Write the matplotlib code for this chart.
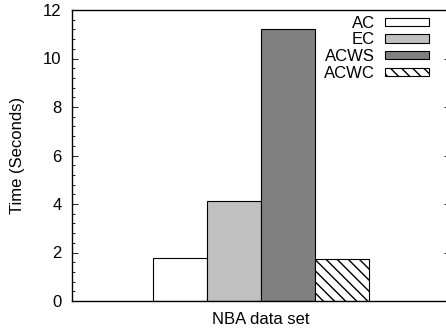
import numpy as np
import matplotlib
matplotlib.use('Agg')
import matplotlib.pyplot as plt
from matplotlib.ticker import MultipleLocator

plt.rcParams['font.family'] = ['Liberation Sans', 'DejaVu Sans']

methods = ['AC', 'EC', 'ACWS', 'ACWC']
times = [1.78, 4.13, 11.23, 1.73]
dataset = 'NBA data set'

colors = ['white', '#c0c0c0', '#808080', 'white']
hatches = [None, None, None, '\\\\\\']

fig = plt.figure(figsize=(4.46, 3.32), dpi=100)
ax = fig.add_axes([72 / 446, 31 / 332, 378 / 446, 291 / 332])

pos = np.arange(len(methods)) - 1.5
for p, t, m, c, h in zip(pos, times, methods, colors, hatches):
    ax.bar(p, t, width=1.0, color=c, edgecolor='black', linewidth=0.8,
           hatch=h, label=m)

ax.set_xlim(-3.5, 3.5)
ax.set_ylim(0, 12)
ax.yaxis.set_major_locator(MultipleLocator(2))
ax.yaxis.set_minor_locator(MultipleLocator(0.4))
ax.tick_params(axis='y', which='both', direction='in', left=True, right=True,
               labelsize=12, pad=7.5)
ax.tick_params(axis='y', which='major', length=4, width=0.6)
ax.tick_params(axis='y', which='minor', length=2, width=0.6)
ax.set_xticks([0])
ax.set_xticklabels([dataset], fontsize=12)
ax.tick_params(axis='x', length=0, pad=8)
ax.set_ylabel('Time (Seconds)', fontsize=12, labelpad=13)

for s in ax.spines.values():
    s.set_linewidth(1.0)

ax.legend(loc='upper right', bbox_to_anchor=(0.944, 0.98), frameon=False,
          markerfirst=False, fontsize=12, handlelength=2.65, handleheight=0.4,
          handletextpad=0.6, labelspacing=0.1, borderpad=0, borderaxespad=0)

fig.savefig('out.png', dpi=100)
